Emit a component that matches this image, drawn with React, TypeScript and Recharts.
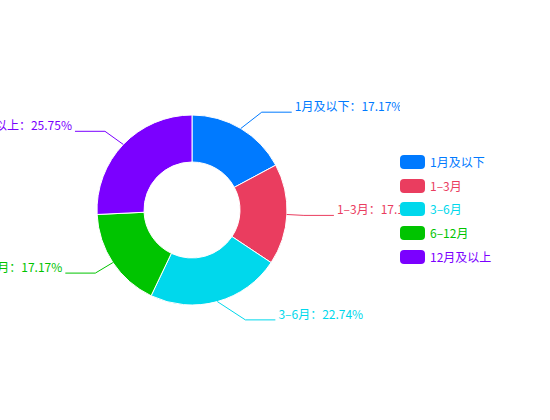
import { PieChart, Pie, Cell, Legend } from "recharts";

const names = ["1月及以下", "1–3月", "3–6月", "6–12月", "12月及以上"];
const shares = [17.17, 17.17, 22.74, 17.17, 25.75];
const colors = ["#007aff", "#ea3d5f", "#00d8ec", "#00c400", "#7b00ff"];

const data = names.map((name, i) => ({ name, value: shares[i], color: colors[i] }));

const FONT = '"Noto Sans CJK SC", "Noto Sans", sans-serif';
const RAD = Math.PI / 180;

// label line: radial part ends on an ellipse (like echarts' label layout), then a flat part
const LEN1 = 17;
const ELLIPSE_EXTRA = 30;
const LEN2 = 30;

function renderLabel(props: any) {
  const { cx, cy, midAngle, outerRadius, payload, index } = props;
  const cos = Math.cos(-midAngle * RAD);
  const sin = Math.sin(-midAngle * RAD);
  const sx = cx + outerRadius * cos;
  const sy = cy + outerRadius * sin;
  const rA = outerRadius + LEN1;
  const rB = outerRadius + ELLIPSE_EXTRA;
  const my = cy + (outerRadius + 19) * sin;
  const dy = my - cy;
  const dir = cos >= 0 ? 1 : -1;
  const mx = cx + dir * Math.sqrt(Math.max(0, 1 - (dy * dy) / (rB * rB))) * rA;
  const ex = mx + dir * LEN2;
  const col = payload.color;
  return (
    <g key={`lbl-${index}`} clipPath="url(#labelClip)">
      <polyline points={`${sx},${sy} ${mx},${my} ${ex},${my}`} stroke={col} strokeWidth={1} fill="none" />
      <text
        x={ex + dir * 3}
        y={my - 1}
        fill={col}
        fontSize={12}
        fontFamily={FONT}
        textAnchor={dir > 0 ? "start" : "end"}
      >
        {`${payload.name}：${payload.value.toFixed(2)}%`}
      </text>
    </g>
  );
}

function renderLegend() {
  return (
    <div style={{ fontFamily: FONT, fontSize: 12 }}>
      {data.map((d) => (
        <div key={d.name} style={{ display: "flex", alignItems: "center", height: 23.75 }}>
          <span style={{ width: 25, height: 14, borderRadius: 4, background: d.color, marginRight: 5 }} />
          <span style={{ color: d.color, lineHeight: "14px" }}>{d.name}</span>
        </div>
      ))}
    </div>
  );
}

export default function App() {
  return (
    <div style={{ position: "absolute", left: 0, top: 0, width: 550, height: 420, background: "#fff" }}>
      <PieChart width={550} height={420} margin={{ top: 0, right: 0, bottom: 0, left: 0 }}>
        <defs>
          <clipPath id="labelClip">
            <rect x={0} y={0} width={400} height={420} />
          </clipPath>
        </defs>
        <Pie
          data={data}
          dataKey="value"
          nameKey="name"
          cx={192}
          cy={210}
          innerRadius={48}
          outerRadius={95}
          startAngle={90}
          endAngle={-270}
          stroke="#fff"
          strokeWidth={1}
          label={renderLabel}
          labelLine={false}
          isAnimationActive={false}
        >
          {data.map((d) => (
            <Cell key={d.name} fill={d.color} />
          ))}
        </Pie>
        <Legend
          layout="vertical"
          content={renderLegend}
          wrapperStyle={{ left: 400, top: 150, width: 140 }}
        />
      </PieChart>
    </div>
  );
}
